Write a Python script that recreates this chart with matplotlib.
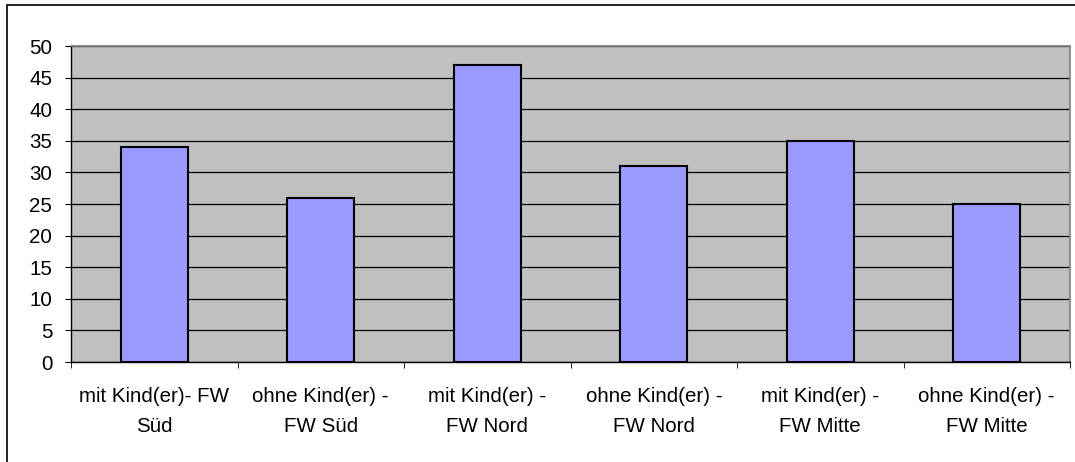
import matplotlib
matplotlib.use("Agg")
import matplotlib.pyplot as plt
from matplotlib.patches import Rectangle
import numpy as np

plt.rcParams["font.family"] = ["Liberation Sans", "DejaVu Sans"]

categories = [
    "mit Kind(er)- FW\nSüd",
    "ohne Kind(er) -\nFW Süd",
    "mit Kind(er) -\nFW Nord",
    "ohne Kind(er) -\nFW Nord",
    "mit Kind(er) -\nFW Mitte",
    "ohne Kind(er) -\nFW Mitte",
]
values = [34, 26, 47, 31, 35, 25]
y_ticks = list(range(0, 55, 5))

W, H = 1075, 462
fig = plt.figure(figsize=(W / 100, H / 100), dpi=100)
fig.patch.set_facecolor("white")

# outer chart border (right and bottom edges fall outside the image)
fig.patches.append(Rectangle((7 / W, -0.1), 1.2, 1.1 - 5.5 / H, transform=fig.transFigure,
                             fill=False, edgecolor="#000000", linewidth=1.2))

left, right, top, bottom = 71, 1070, 46, 362
ax = fig.add_axes([left / W, 1 - bottom / H, (right - left) / W, (bottom - top) / H])
ax.set_facecolor("#C0C0C0")

x = np.arange(len(categories))
ax.set_axisbelow(True)
ax.yaxis.grid(True, color="#000000", linewidth=0.9)
ax.bar(x, values, width=0.4, color="#9999FF", edgecolor="#000000", linewidth=1.5, zorder=3)

ax.set_xlim(-0.5, len(categories) - 0.5)
ax.set_ylim(0, 50)
ax.set_yticks(y_ticks)
ax.set_xticks(x)
ax.set_xticklabels(categories, fontsize=14.8, linespacing=1.75)
ax.set_xticks(np.arange(-0.5, len(categories)), minor=True)
ax.tick_params(axis="x", which="major", length=0, pad=18)
ax.tick_params(axis="x", which="minor", length=4.5, direction="out", color="#000000")
ax.tick_params(axis="y", length=4.5, direction="out", labelsize=14.8, pad=9)

for s in ("top", "right"):
    ax.spines[s].set_color("#808080")
    ax.spines[s].set_linewidth(1.2)
for s in ("left", "bottom"):
    ax.spines[s].set_color("#000000")
    ax.spines[s].set_linewidth(1.0)

fig.savefig("out.png", dpi=100)
